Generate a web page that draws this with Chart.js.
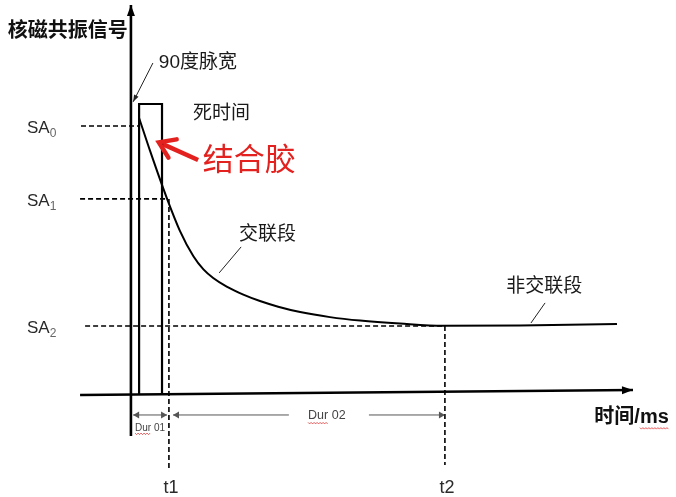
<!DOCTYPE html>
<html>
<head>
<meta charset="utf-8">
<script src="https://cdn.jsdelivr.net/npm/chart.js@4.4.1/dist/chart.umd.min.js"></script>
<style>
  html, body { margin: 0; padding: 0; background: #fff; overflow: hidden; }
</style>
</head>
<body>
<canvas id="nmrChart" width="676" height="497"></canvas>
<script>
// ---------------- DATA ----------------
// time (ms, arbitrary units) and NMR signal
const decayTime   = [2.6, 6.1, 11.4, 15.6, 19.9, 23.1, 26.2, 30.5, 35.8, 41.1, 46.9, 53.9, 63.4, 73.0, 85.7, 99.4, 123.9, 154.8];
const decaySignal = [103.0, 90.7, 73.2, 60.9, 51.4, 46.5, 43.3, 40.1, 37.1, 34.7, 32.6, 30.6, 28.7, 27.4, 26.3, 25.5, 25.6, 26.1];

// signal amplitudes SA0, SA1, SA2 and where their dashed guides start / stop
const saLevels   = [100.0, 72.8, 25.4];
const saNames    = ["0", "1", "2"];
const saFrom     = [-15.9, -16.2, -14.6];
const saTo       = [2.9, 11.8, 100.0];

// 90 degree pulse (dead time box)
const pulseStart  = 2.6;
const pulseEnd    = 9.9;
const pulseHeight = 108.2;

// time marks t1, t2
const tMarks = [12.1, 100.0];
const tNames = ["t1", "t2"];
const tDashBottom = [-27.6, -26.5];

// ---------------- HELPERS ----------------
const pts = (xs, ys) => xs.map((x, i) => ({ x: x, y: ys[i] }));

function seg(data, opts) {
  return Object.assign({
    data: data,
    showLine: true,
    pointRadius: 0,
    pointHoverRadius: 0,
    borderColor: "#000",
    borderWidth: 2,
    fill: false,
    tension: 0,
    spanGaps: false
  }, opts || {});
}

const FONT = '"Liberation Sans", "Noto Sans CJK SC", sans-serif';
const DASH = [5, 3];

// ---------------- DATASETS ----------------
const datasets = [];

// axes (drawn as lines so they can carry arrow heads)
datasets.push(seg([{ x: 0, y: -15.6 }, { x: 0, y: 145.1 }], { borderWidth: 2.6, arrow: "end", arrowLen: 11, arrowW: 4 }));
datasets.push(seg([{ x: -16.2, y: -0.35 }, { x: 159.9, y: 1.5 }], { borderWidth: 2.6, arrow: "end", arrowLen: 11, arrowW: 4 }));

// pulse box
datasets.push(seg([
  { x: pulseStart, y: 0 }, { x: pulseStart, y: pulseHeight },
  { x: pulseEnd, y: pulseHeight }, { x: pulseEnd, y: 0 }
], { borderWidth: 2.2 }));

// decay curve
datasets.push(seg(pts(decayTime, decaySignal), { borderWidth: 2, cubicInterpolationMode: "monotone" }));

// SA dashed guides
saLevels.forEach((lv, i) => {
  datasets.push(seg([{ x: saFrom[i], y: lv }, { x: saTo[i], y: lv }], { borderWidth: 1.6, borderDash: DASH }));
});

// t1 / t2 dashed drops
tMarks.forEach((t, i) => {
  datasets.push(seg([{ x: t, y: saLevels[i + 1] }, { x: t, y: tDashBottom[i] }], { borderWidth: 1.6, borderDash: DASH }));
});

// Dur 01 / Dur 02 measuring arrows
datasets.push(seg([{ x: 0.7, y: -7.8 }, { x: 11.5, y: -7.8 }], { borderWidth: 1, borderColor: "#555", arrow: "both", arrowLen: 6, arrowW: 3.5 }));
datasets.push(seg([
  { x: 13.4, y: -7.8 }, { x: 50.3, y: -7.8 }, { x: 62, y: null },
  { x: 75.8, y: -7.8 }, { x: tMarks[1], y: -7.8 }
], { borderWidth: 1, borderColor: "#555", arrow: "both", arrowLen: 6, arrowW: 3.5 }));

// leader lines
datasets.push(seg([{ x: 7.0, y: 123.5 }, { x: 0.7, y: 109.0 }], { borderWidth: 1, borderColor: "#222", arrow: "end", arrowLen: 7, arrowW: 2.5 }));
datasets.push(seg([{ x: 35.1, y: 54.9 }, { x: 28.1, y: 45.2 }], { borderWidth: 1, borderColor: "#222" }));
datasets.push(seg([{ x: 131.9, y: 34.0 }, { x: 127.4, y: 26.5 }], { borderWidth: 1, borderColor: "#222" }));

// red arrow pointing at the glue
datasets.push(seg([{ x: 21.4, y: 87.3 }, { x: 8.9, y: 93.9 }], { borderWidth: 4.5, borderColor: "#e3211e", arrow: "open", arrowLen: 15, arrowW: 10 }));

// ---------------- LABELS ----------------
const labels = [
  { text: "核磁共振信号", x: -39.2, y: 135.4, size: 20, bold: true, color: "#111" },
  { text: "90度脉宽", x: 8.9, y: 123.5, size: 19, color: "#1a1a1a" },
  { text: "死时间", x: 19.8, y: 104.5, size: 19, color: "#1a1a1a" },
  { text: "结合胶", x: 22.9, y: 86.6, size: 31, color: "#e3211e" },
  { text: "交联段", x: 34.4, y: 59.3, size: 19, color: "#1a1a1a" },
  { text: "非交联段", x: 119.5, y: 39.9, size: 19, color: "#1a1a1a" },
  { text: "时间/ms", x: 147.6, y: -8.6, size: 20, bold: true, color: "#111", squiggle: [3, 5] },
  { text: "Dur 01", x: 6.1, y: -12.7, size: 10, color: "#444", align: "center", squiggle: [0, 3] },
  { text: "Dur 02", x: 62.4, y: -8.2, size: 12.5, color: "#444", align: "center", squiggle: [0, 3] }
];

// ---------------- PLUGIN: arrow heads + text ----------------
const decorPlugin = {
  id: "decor",
  afterDatasetsDraw(chart) {
    const ctx = chart.ctx;
    const xs = chart.scales.x, ys = chart.scales.y;

    // arrow heads from dataset end points
    chart.data.datasets.forEach((ds, i) => {
      if (!ds.arrow) return;
      const el = chart.getDatasetMeta(i).data;
      const n = el.length;
      const head = (tip, prev) => {
        const a = Math.atan2(tip.y - prev.y, tip.x - prev.x);
        const L = ds.arrowLen, W = ds.arrowW;
        const bx = tip.x - L * Math.cos(a), by = tip.y - L * Math.sin(a);
        const ox = W * Math.sin(a), oy = -W * Math.cos(a);
        ctx.save();
        ctx.fillStyle = ds.borderColor;
        ctx.strokeStyle = ds.borderColor;
        if (ds.arrow === "open") {
          ctx.lineWidth = ds.borderWidth;
          ctx.lineCap = "round";
          ctx.beginPath();
          ctx.moveTo(bx + ox, by + oy);
          ctx.lineTo(tip.x, tip.y);
          ctx.lineTo(bx - ox, by - oy);
          ctx.stroke();
        } else {
          ctx.beginPath();
          ctx.moveTo(tip.x, tip.y);
          ctx.lineTo(bx + ox, by + oy);
          ctx.lineTo(bx - ox, by - oy);
          ctx.closePath();
          ctx.fill();
        }
        ctx.restore();
      };
      head(el[n - 1], el[n - 2]);
      if (ds.arrow === "both") head(el[0], el[1]);
    });

    // SA labels with subscripts
    ctx.save();
    ctx.textBaseline = "middle";
    saLevels.forEach((lv, i) => {
      const x = 27, y = ys.getPixelForValue(lv) + 2;
      ctx.font = "17px " + FONT;
      ctx.fillStyle = "#2a2a2a";
      ctx.textAlign = "left";
      ctx.fillText("SA", x, y);
      const w = ctx.measureText("SA").width;
      ctx.font = "12px " + FONT;
      ctx.fillStyle = "#666";
      ctx.fillText(saNames[i], x + w, y + 6);
    });

    // t1 / t2
    ctx.font = "18px " + FONT;
    ctx.fillStyle = "#2a2a2a";
    ctx.textAlign = "center";
    tMarks.forEach((t, i) => {
      ctx.fillText(tNames[i], xs.getPixelForValue(t) + 2, ys.getPixelForValue(-35.0));
    });

    // other labels
    labels.forEach(lb => {
      ctx.font = (lb.bold ? "bold " : "") + lb.size + "px " + FONT;
      ctx.fillStyle = lb.color;
      ctx.textAlign = lb.align || "left";
      const x = xs.getPixelForValue(lb.x), y = ys.getPixelForValue(lb.y);
      ctx.fillText(lb.text, x, y);
      if (lb.squiggle) {
        const full = ctx.measureText(lb.text).width;
        const left = (lb.align === "center") ? x - full / 2 : x;
        const x0 = left + ctx.measureText(lb.text.slice(0, lb.squiggle[0])).width;
        const x1 = left + ctx.measureText(lb.text.slice(0, lb.squiggle[1])).width;
        const yy = y + lb.size * 0.55;
        ctx.save();
        ctx.strokeStyle = "#e03030";
        ctx.lineWidth = 0.8;
        ctx.beginPath();
        for (let k = 0, px = x0; px <= x1; px += 1.5, k++) {
          const qy = yy + (k % 2 ? 1 : -0.5);
          if (k === 0) ctx.moveTo(px, qy); else ctx.lineTo(px, qy);
        }
        ctx.stroke();
        ctx.restore();
      }
    });
    ctx.restore();
  }
};

// ---------------- CHART ----------------
new Chart(document.getElementById("nmrChart"), {
  type: "scatter",
  data: { datasets: datasets },
  options: {
    responsive: false,
    animation: false,
    layout: { padding: 0 },
    plugins: {
      legend: { display: false },
      tooltip: { enabled: false }
    },
    scales: {
      x: { type: "linear", min: -41.7, max: 173.6, display: false },
      y: { type: "linear", min: -38.4, max: 147.0, display: false }
    }
  },
  plugins: [decorPlugin]
});
</script>
</body>
</html>
